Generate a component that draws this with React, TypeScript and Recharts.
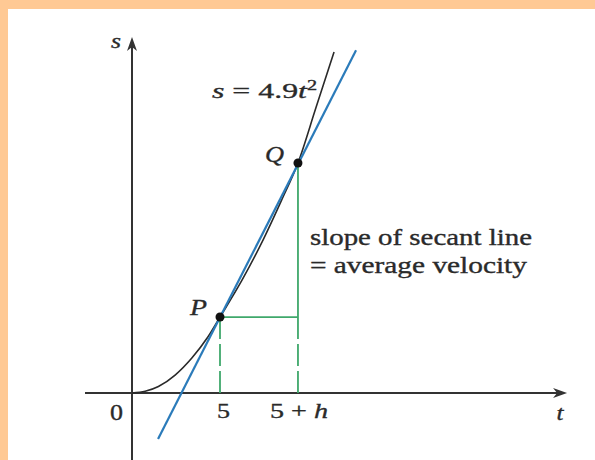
import React from 'react';
import { LineChart, Line, XAxis, YAxis, ReferenceLine, ReferenceDot } from 'recharts';

// Position-time curve, sampled in the figure's own units (t across, s up)
const curveT = [0, 0.75, 1.5, 2.45, 3.4, 4.3, 5, 6.25, 7.45, 8.5, 9.43, 10.45, 11.48];
const curveS = [0, 2.8, 10.5, 29, 56.5, 90, 122.5, 182, 247, 311, 371, 460, 550];

// The two points joined by the secant line
const pointP = { t: 5, s: 122.5 };
const pointQ = { t: 9.43, s: 371 };

// Secant line, drawn past P and Q on both sides
const secantT = [1.48, 12.73];
const secantS = [-74, 553];

// Extents of the drawn axes (arrow tips at the upper ends)
const tAxisEnds = [-2.67, 24.72];
const sAxisEnds = [-140, 574];

// Tick labels on the t axis
const tickValues = [0, pointP.t, pointQ.t];
const tickLabels = ['0', '5', '5 + h'];

const T_DOMAIN: [number, number] = [-3, 25];
const S_DOMAIN: [number, number] = [-130, 580];

const INK = '#2a2a2a';
const AXIS = '#333333';
const BLUE = '#2b7bba';
const GREEN = '#3fa86b';
const SERIF = '"Liberation Serif", "DejaVu Serif", serif';

const curve = curveT.map((t, i) => ({ t, s: curveS[i] }));
const secant = secantT.map((t, i) => ({ t, s: secantS[i] }));
const runLeg = [
  { t: pointP.t, s: pointP.s },
  { t: pointQ.t, s: pointP.s },
];
const riseLeg = [
  { t: pointQ.t, s: pointP.s },
  { t: pointQ.t, s: pointQ.s },
];
const dropP = [
  { t: pointP.t, s: pointP.s },
  { t: pointP.t, s: 0 },
];
const dropQ = [
  { t: pointQ.t, s: pointP.s },
  { t: pointQ.t, s: 0 },
];

// Axis line with a notched arrowhead at its second end
const ArrowAxis = (props: any) => {
  const { x1, y1, x2, y2 } = props;
  const a = Math.atan2(y2 - y1, x2 - x1);
  const ux = Math.cos(a);
  const uy = Math.sin(a);
  const px = -uy;
  const py = ux;
  const L = 14;
  const W = 5;
  const N = 10;
  const pts = [
    [x2, y2],
    [x2 - L * ux + W * px, y2 - L * uy + W * py],
    [x2 - N * ux, y2 - N * uy],
    [x2 - L * ux - W * px, y2 - L * uy - W * py],
  ];
  return (
    <g>
      <line x1={x1} y1={y1} x2={x2 - N * ux} y2={y2 - N * uy} stroke={AXIS} strokeWidth={2} />
      <polygon points={pts.map((p) => p.join(',')).join(' ')} fill={AXIS} />
    </g>
  );
};

type NoteSpec = {
  key: string;
  t: number;
  s: number;
  dx: number;
  dy: number;
  anchor: 'start' | 'middle' | 'end';
  width: number;
  size: number;
  italic?: boolean;
  body: React.ReactNode;
};

const note = (n: NoteSpec) => (
  <ReferenceDot
    key={n.key}
    x={n.t}
    y={n.s}
    r={0}
    ifOverflow="visible"
    shape={(p: any) => (
      <text
        x={p.cx + n.dx}
        y={p.cy + n.dy}
        textAnchor={n.anchor}
        fontFamily={SERIF}
        fontSize={n.size}
        fontStyle={n.italic ? 'italic' : 'normal'}
        fill={INK}
        stroke={INK}
        strokeWidth={0.35}
        textLength={n.width}
        lengthAdjust="spacingAndGlyphs"
      >
        {n.body}
      </text>
    )}
  />
);

const tickNotes: NoteSpec[] = [
  { key: 'tick0', t: tickValues[0], s: 0, dx: -9, dy: 27, anchor: 'end', width: 13, size: 23, body: tickLabels[0] },
  { key: 'tick5', t: tickValues[1], s: 0, dx: 3.5, dy: 25, anchor: 'middle', width: 13, size: 22, body: tickLabels[1] },
  {
    key: 'tick5h',
    t: tickValues[2],
    s: 0,
    dx: 1,
    dy: 25,
    anchor: 'middle',
    width: 58,
    size: 22,
    body: (
      <>
        <tspan>5 + </tspan>
        <tspan fontStyle="italic">h</tspan>
      </>
    ),
  },
];

const otherNotes: NoteSpec[] = [
  { key: 'axisS', t: 0, s: sAxisEnds[1], dx: -11, dy: 11, anchor: 'end', width: 10, size: 21, italic: true, body: 's' },
  { key: 'axisT', t: tAxisEnds[1], s: 0, dx: -7, dy: 27, anchor: 'middle', width: 7, size: 21, italic: true, body: 't' },
  { key: 'labelP', t: pointP.t, s: pointP.s, dx: -13, dy: -2, anchor: 'end', width: 17, size: 23, italic: true, body: 'P' },
  { key: 'labelQ', t: pointQ.t, s: pointQ.s, dx: -14, dy: -1, anchor: 'end', width: 19, size: 23, italic: true, body: 'Q' },
  {
    key: 'formula',
    t: curveT[curveT.length - 1],
    s: curveS[curveS.length - 1],
    dx: -17,
    dy: 46,
    anchor: 'end',
    width: 105,
    size: 22,
    body: (
      <>
        <tspan fontStyle="italic">s</tspan>
        <tspan> = 4.9</tspan>
        <tspan fontStyle="italic">t</tspan>
        <tspan dy={-8} fontSize={14}>2</tspan>
      </>
    ),
  },
  { key: 'slope1', t: pointQ.t, s: pointP.s, dx: 12, dy: -72, anchor: 'start', width: 222, size: 23, body: 'slope of secant line' },
  { key: 'slope2', t: pointQ.t, s: pointP.s, dx: 12, dy: -44, anchor: 'start', width: 217, size: 23, body: '= average velocity' },
];

export default function App() {
  return (
    <div
      style={{
        position: 'fixed',
        left: 0,
        top: 0,
        width: 595,
        height: 460,
        overflow: 'hidden',
        background: '#ffc994',
      }}
    >
      <div
        style={{
          position: 'absolute',
          left: 8,
          top: 9,
          right: 0,
          bottom: 0,
          background: '#ffffff',
        }}
      />
      <div style={{ position: 'absolute', left: 0, top: 0 }}>
        <LineChart width={595} height={480} margin={{ top: 33.4, right: 23, bottom: 6.4, left: 79.2 }}>
          <XAxis dataKey="t" type="number" domain={T_DOMAIN} allowDataOverflow hide />
          <YAxis dataKey="s" type="number" domain={S_DOMAIN} allowDataOverflow hide />

          <ReferenceLine
            segment={[
              { x: tAxisEnds[0], y: 0 },
              { x: tAxisEnds[1], y: 0 },
            ]}
            ifOverflow="visible"
            shape={ArrowAxis}
          />
          <ReferenceLine
            segment={[
              { x: 0, y: sAxisEnds[0] },
              { x: 0, y: sAxisEnds[1] },
            ]}
            ifOverflow="visible"
            shape={ArrowAxis}
          />

          <Line data={dropP} dataKey="s" stroke={GREEN} strokeWidth={1.8} strokeDasharray="22 5" dot={false} isAnimationActive={false} />
          <Line data={dropQ} dataKey="s" stroke={GREEN} strokeWidth={1.8} strokeDasharray="22 5" dot={false} isAnimationActive={false} />
          <Line data={runLeg} dataKey="s" stroke={GREEN} strokeWidth={1.8} dot={false} isAnimationActive={false} />
          <Line data={riseLeg} dataKey="s" stroke={GREEN} strokeWidth={1.8} dot={false} isAnimationActive={false} />

          <Line data={curve} dataKey="s" type="monotone" stroke={INK} strokeWidth={1.6} dot={false} isAnimationActive={false} />
          <Line data={secant} dataKey="s" type="linear" stroke={BLUE} strokeWidth={2.2} dot={false} isAnimationActive={false} />

          <ReferenceDot x={pointP.t} y={pointP.s} r={4.5} fill="#111" stroke="none" ifOverflow="visible" />
          <ReferenceDot x={pointQ.t} y={pointQ.s} r={4.5} fill="#111" stroke="none" ifOverflow="visible" />

          {tickNotes.map(note)}
          {otherNotes.map(note)}
        </LineChart>
      </div>
    </div>
  );
}
